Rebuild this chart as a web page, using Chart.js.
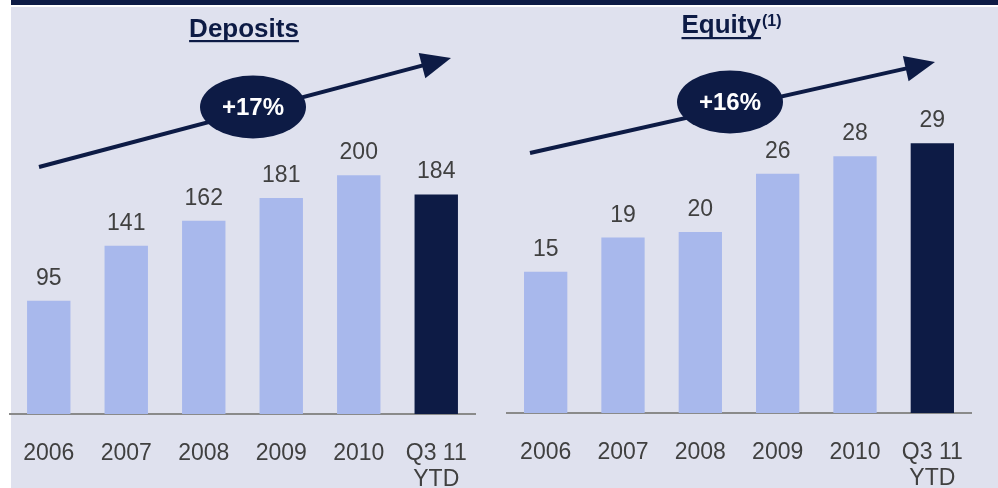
<!DOCTYPE html>
<html>
<head>
<meta charset="utf-8">
<script src="https://cdn.jsdelivr.net/npm/chart.js@4.4.1/dist/chart.umd.min.js"></script>
<style>
  html, body { margin: 0; padding: 0; background: #ffffff; }
  #wrap { position: relative; width: 998px; height: 488px; overflow: hidden; }
  #topbar { position: absolute; left: 11px; top: 0; width: 987px; height: 5px; background: #0d1b45; }
  #bg { position: absolute; left: 11px; top: 7px; width: 987px; height: 481px; background: #dfe1ee; }
  .cv { position: absolute; top: 0; height: 519px; }
  #c1box { left: 0; width: 495px; }
  #c2box { left: 495px; width: 503px; }
</style>
</head>
<body>
<div id="wrap">
  <div id="topbar"></div>
  <div id="bg"></div>
  <div class="cv" id="c1box"><canvas id="c1" width="495" height="519"></canvas></div>
  <div class="cv" id="c2box"><canvas id="c2" width="503" height="518"></canvas></div>
</div>
<script>
const categories = ["2006", "2007", "2008", "2009", "2010", ["Q3 11", "YTD"]];
const depositsValues = [95, 141, 162, 181, 200, 184];
const equityValues = [15.3, 19.0, 19.6, 25.9, 27.8, 29.2];
const depositsCagr = "+17%";
const equityCagr = "+16%";

const LIGHT = "#a8b8ec";
const DARK = "#0d1b45";
const TEXT = "#404040";
const FONT = "'Liberation Sans', Arial, sans-serif";

const barColors = categories.map((c, i) => i === categories.length - 1 ? DARK : LIGHT);

const valueLabels = {
  id: "valueLabels",
  afterDatasetsDraw(chart) {
    const ctx = chart.ctx;
    const meta = chart.getDatasetMeta(0);
    const data = chart.data.datasets[0].data;
    ctx.save();
    ctx.fillStyle = TEXT;
    ctx.font = "23px " + FONT;
    ctx.textAlign = "center";
    ctx.textBaseline = "alphabetic";
    meta.data.forEach((bar, i) => {
      ctx.fillText(String(Math.round(data[i])), bar.x, bar.y - 16);
    });
    ctx.restore();
  }
};

function makeDecor(cfg) {
  return {
    id: "decor",
    afterDraw(chart) {
      const ctx = chart.ctx;
      ctx.save();
      // title
      ctx.fillStyle = DARK;
      ctx.font = "bold 26px " + FONT;
      ctx.textBaseline = "alphabetic";
      const w = ctx.measureText(cfg.title).width;
      let supW = 0;
      if (cfg.sup) {
        ctx.font = "bold 16px " + FONT;
        supW = ctx.measureText(cfg.sup).width;
      }
      const x0 = cfg.titleX - (w + supW) / 2;
      ctx.font = "bold 26px " + FONT;
      ctx.textAlign = "left";
      ctx.fillText(cfg.title, x0, cfg.titleY);
      ctx.fillRect(x0, cfg.titleY + cfg.ulOff, w, 2.2);
      if (cfg.sup) {
        ctx.font = "bold 16px " + FONT;
        ctx.fillText(cfg.sup, x0 + w + 1, cfg.titleY - 7);
      }
      // arrow
      const [sx, sy] = cfg.arrowStart, [tx, ty] = cfg.arrowTip;
      const ang = Math.atan2(ty - sy, tx - sx);
      const L = 30, H = 13;
      const bx = tx - L * Math.cos(ang), by = ty - L * Math.sin(ang);
      ctx.strokeStyle = DARK;
      ctx.lineWidth = 4;
      ctx.beginPath();
      ctx.moveTo(sx, sy);
      ctx.lineTo(bx + 2 * Math.cos(ang), by + 2 * Math.sin(ang));
      ctx.stroke();
      ctx.beginPath();
      ctx.moveTo(tx, ty);
      ctx.lineTo(bx + H * Math.sin(ang), by - H * Math.cos(ang));
      ctx.lineTo(bx - H * Math.sin(ang), by + H * Math.cos(ang));
      ctx.closePath();
      ctx.fillStyle = DARK;
      ctx.fill();
      // ellipse
      ctx.beginPath();
      ctx.ellipse(cfg.ell[0], cfg.ell[1], 53, 31.5, 0, 0, Math.PI * 2);
      ctx.fill();
      ctx.fillStyle = "#ffffff";
      ctx.font = "bold 24px " + FONT;
      ctx.textAlign = "center";
      ctx.textBaseline = "middle";
      ctx.fillText(cfg.badge, cfg.ell[0], cfg.ell[1] + 1);
      ctx.restore();
    }
  };
}

function makeChart(id, values, yMax, padding, decor) {
  return new Chart(document.getElementById(id), {
    type: "bar",
    data: {
      labels: categories,
      datasets: [{
        data: values,
        backgroundColor: barColors,
        borderWidth: 0,
        categoryPercentage: 1.0,
        barPercentage: 0.56
      }]
    },
    options: {
      responsive: false,
      animation: false,
      events: [],
      layout: { padding: padding },
      plugins: { legend: { display: false }, tooltip: { enabled: false }, title: { display: false } },
      scales: {
        x: {
          grid: { display: false, drawTicks: false },
          border: { display: true, color: "#8a8a8a", width: 2 },
          ticks: { color: TEXT, font: { family: FONT, size: 23, lineHeight: 1.15 }, padding: 26, maxRotation: 0, autoSkip: false },
          afterFit(scale) { scale.paddingLeft = 0; scale.paddingRight = 0; }
        },
        y: { display: false, min: 0, max: yMax }
      }
    },
    plugins: [valueLabels, makeDecor(decor)]
  });
}

makeChart("c1", depositsValues, 300, { left: 10, right: 20, top: 56, bottom: 0 }, {
  title: "Deposits", sup: null, titleX: 244, titleY: 37, ulOff: 3,
  arrowStart: [39, 167], arrowTip: [451, 58], ell: [253, 107], badge: depositsCagr
});
makeChart("c2", equityValues, 38, { left: 12, right: 27, top: 62, bottom: 0 }, {
  title: "Equity", sup: "(1)", titleX: 236, titleY: 33, ulOff: 4,
  arrowStart: [35, 153], arrowTip: [440, 62], ell: [235, 102], badge: equityCagr
});
</script>
</body>
</html>
